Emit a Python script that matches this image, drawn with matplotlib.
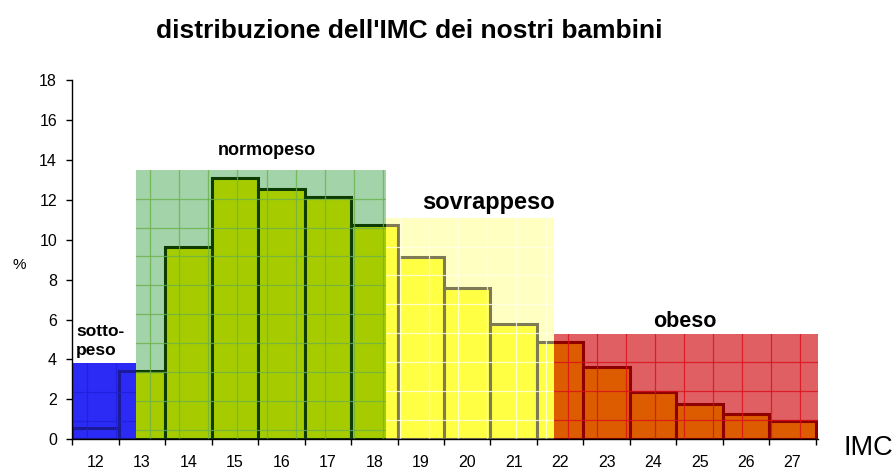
import matplotlib
matplotlib.use("Agg")
import matplotlib.pyplot as plt
from matplotlib.patches import Rectangle
import numpy as np

plt.rcParams['font.family'] = ['Liberation Sans', 'DejaVu Sans']

imc = [12, 13, 14, 15, 16, 17, 18, 19, 20, 21, 22, 23, 24, 25, 26, 27]
percent = [0.55, 3.4, 9.65, 13.1, 12.55, 12.15, 10.75, 9.15, 7.6, 5.8,
           4.9, 3.6, 2.35, 1.75, 1.25, 0.9]

region_names = ["sotto-\npeso", "normopeso", "sovrappeso", "obeso"]
region_start = [11.5, 12.87, 18.25, 21.86]
region_end = [12.87, 18.25, 21.86, 27.55]
region_top = [3.8, 13.5, 11.1, 5.3]

region_bg = ["#2b2bf5", "#a3d3a8", "#ffffc2", "#e05f63"]
region_bar = ["#2b2bf5", "#a6cc00", "#ffff44", "#dd5c00"]
region_edge = ["#1a1a9a", "#0d3b00", "#7d7a55", "#8e0000"]
region_grid = ["#1e1ed8", "#6cb04a", "#ffffe8", "#d8101a"]

fig = plt.figure(figsize=(8.96, 4.68), dpi=100)
ax = fig.add_axes([0.0807, 0.0613, 0.8323, 0.7677])
ax.set_xlim(11.5, 27.55)
ax.set_ylim(0, 18)

for i in range(len(region_names)):
    x0, x1, top = region_start[i], region_end[i], region_top[i]
    bg = Rectangle((x0, 0), x1 - x0, top, facecolor=region_bg[i],
                   edgecolor='none', zorder=1)
    ax.add_patch(bg)
    clip = Rectangle((x0, 0), x1 - x0, 18, transform=ax.transData)
    bars = ax.bar(imc, percent, width=1.0, color=region_bar[i],
                  edgecolor=region_edge[i], linewidth=2.2, zorder=2)
    for b in bars:
        b.set_clip_path(clip)
    # texture grid
    gclip = Rectangle((x0, 0), x1 - x0, top, transform=ax.transData)
    for gx in np.arange(x0 + 0.31, x1, 0.625):
        ln, = ax.plot([gx, gx], [0, top], color=region_grid[i], lw=0.9, zorder=3, alpha=0.8)
        ln.set_clip_path(gclip)
    for gy in np.arange(top - 1.446, 0, -1.446):
        ln, = ax.plot([x0, x1], [gy, gy], color=region_grid[i], lw=0.9, zorder=3, alpha=0.8)
        ln.set_clip_path(gclip)

for s in ['top', 'right']:
    ax.spines[s].set_visible(False)
for s in ['left', 'bottom']:
    ax.spines[s].set_zorder(5)
    ax.spines[s].set_linewidth(1.0)

edges = np.arange(11.5, 28.0, 1.0)
ax.set_xticks(edges)
ax.set_xticklabels([])
ax.set_xticks(imc, minor=True)
ax.set_xticklabels([str(v) for v in imc], minor=True)
ax.tick_params(axis='x', which='major', direction='out', length=4, width=1)
ax.tick_params(axis='x', which='minor', length=0, pad=11.5, labelsize=11.5)
ax.set_yticks(np.arange(0, 19, 2))
ax.tick_params(axis='y', direction='out', length=4, width=1, pad=7, labelsize=11.5)

label_x = [11.58, 15.68, 20.45, 24.68]
label_y = [5.8, 14.24, 11.54, 5.65]
label_size = [12.5, 13, 17, 15.5]
label_ha = ['left', 'center', 'center', 'center']
label_va = ['top', 'baseline', 'baseline', 'baseline']
for i in range(len(region_names)):
    ax.text(label_x[i], label_y[i], region_names[i], fontsize=label_size[i],
            fontweight='bold', ha=label_ha[i], va=label_va[i], zorder=6,
            linespacing=1.4)

fig.text(409 / 896, 1 - 31 / 468, "distribuzione dell'IMC dei nostri bambini",
         fontsize=19, fontweight='bold', ha='center', va='center')
fig.text(19 / 896, 1 - 265 / 468, "%", fontsize=11, ha='center', va='center')
fig.text(868 / 896, 1 - 448 / 468, "IMC", fontsize=19.5, ha='center', va='center')

fig.savefig("out.png", dpi=100)
